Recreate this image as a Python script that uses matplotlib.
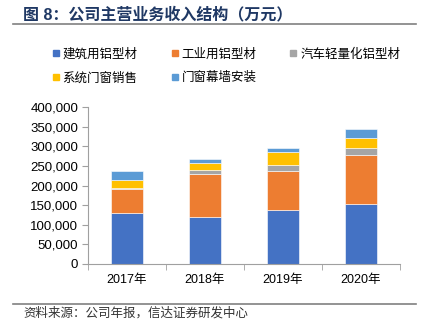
import numpy as np
import matplotlib.pyplot as plt
from matplotlib.lines import Line2D

plt.rcParams['font.family'] = ['Liberation Sans', 'Noto Sans CJK SC', 'DejaVu Sans']

years = ["2017年", "2018年", "2019年", "2020年"]
series_names = ["建筑用铝型材", "工业用铝型材", "汽车轻量化铝型材", "系统门窗销售", "门窗幕墙安装"]
building = [129300, 119100, 137000, 154000]
industrial = [61300, 109800, 99600, 124300]
auto = [4300, 11100, 14400, 17000]
windows = [17900, 16100, 33200, 25500]
install = [23800, 11900, 11900, 23800]
colors = ["#4472C4", "#ED7D31", "#A5A5A5", "#FFC000", "#5B9BD5"]

fig = plt.figure(figsize=(4.27, 3.28), dpi=100)
ax = fig.add_axes([88 / 427, 1 - 264 / 328, 312 / 427, 157 / 328])

x = np.arange(len(years))
bottom = np.zeros(len(years))
for name, vals, c in zip(series_names, [building, industrial, auto, windows, install], colors):
    ax.bar(x, vals, 0.4, bottom=bottom, color=c, label=name, edgecolor='white', linewidth=0.4)
    bottom += np.array(vals)

ax.set_xlim(-0.5, len(years) - 0.5)
ax.set_ylim(0, 400000)
ax.set_yticks(np.arange(0, 400001, 50000))
ax.yaxis.set_major_formatter(plt.FuncFormatter(lambda v, p: f"{int(v):,}"))
ax.set_xticks(x)
ax.set_xticklabels(years)
ax.set_xticks(np.arange(-0.5, len(years), 1), minor=True)
ax.tick_params(axis='x', which='major', length=0, pad=7, labelsize=9)
ax.tick_params(axis='x', which='minor', length=4, color='#A0A0A0')
ax.tick_params(axis='y', length=4, color='#A0A0A0', labelsize=9.5, pad=3)
for s in ['top', 'right']:
    ax.spines[s].set_visible(False)
for s in ['left', 'bottom']:
    ax.spines[s].set_color('#A0A0A0')
    ax.spines[s].set_linewidth(0.8)

# legend, filled row by row (matplotlib fills columns, so reorder)
order = [0, 3, 1, 4, 2]
handles = [Line2D([], [], marker='s', linestyle='none', markersize=5, color=colors[i]) for i in order]
labels = [series_names[i] for i in order]
fig.legend(handles, labels, loc='upper left', bbox_to_anchor=(47 / 427, 1 - 46 / 328),
           ncol=3, frameon=False, fontsize=9, handletextpad=0.05, columnspacing=2.45,
           labelspacing=0.9, handlelength=1.0, borderaxespad=0, borderpad=0.2)

# title and rules
fig.text(23 / 427, 1 - 14 / 328, "图 8：公司主营业务收入结构（万元）", fontsize=11.5, fontweight='bold',
         color='#1F3864', va='center')
fig.add_artist(Line2D([13 / 427, 416 / 427], [1 - 24 / 328, 1 - 24 / 328], color='#808080', lw=1.2))
fig.add_artist(Line2D([13 / 427, 416 / 427], [1 - 304 / 328, 1 - 304 / 328], color='#808080', lw=1.2))
fig.text(23 / 427, 1 - 313 / 328, "资料来源：公司年报，信达证券研发中心", fontsize=9, style='italic',
         color='#333333', va='center')

fig.savefig("out.png", dpi=100)
